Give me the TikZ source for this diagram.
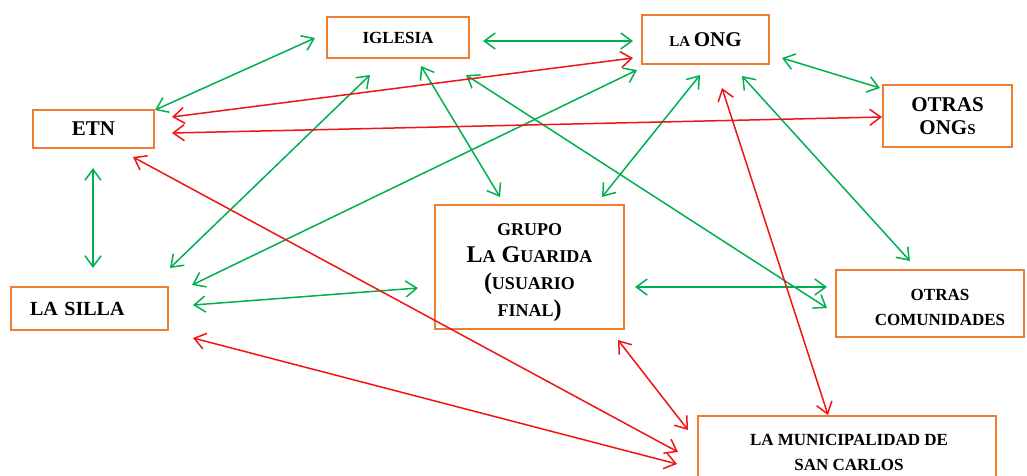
\documentclass[tikz,border=0pt]{standalone}
\usepackage{fontspec}
\setmainfont{Liberation Serif}
\usetikzlibrary{arrows.meta,calc}
\definecolor{boxorange}{RGB}{237,125,49}
\definecolor{lgreen}{RGB}{0,176,80}
\definecolor{lred}{RGB}{240,20,20}
\newcommand\smc[1]{{\fontsize{18}{27}\selectfont #1}}
\begin{document}
\begin{tikzpicture}[x=1pt,y=-1pt,
  >={Straight Barb[length=11pt,width=16pt]},
  box/.style={draw=boxorange, line width=1.6pt, outer sep=0pt, inner sep=0pt, align=center},
  lbl/.style={inner sep=0pt, align=center, font=\bfseries\fontsize{17}{25}\selectfont},
  garr/.style={draw=lgreen, line width=1.5pt, <->},
  rarr/.style={draw=lred, line width=1.5pt, <->}]
\clip (0,0) rectangle (1027,475);
\fill[white] (0,0) rectangle (1027,475);

\node[box, minimum width=142pt, minimum height=41pt, font=\bfseries\fontsize{17}{20}\selectfont] (iglesia) at (398,37.5) {IGLESIA};
\node[box, minimum width=127pt, minimum height=49pt, font=\bfseries\fontsize{21}{24}\selectfont] (ong) at (705.5,39.5) {{\fontsize{15}{18}\selectfont LA}\,ONG};
\node[box, minimum width=121pt, minimum height=38pt, font=\bfseries\fontsize{21}{24}\selectfont] (etn) at (93.5,129) {ETN};
\node[box, minimum width=129pt, minimum height=62pt, font=\bfseries\fontsize{21}{23}\selectfont] (otrasongs) at (947.5,116) {OTRAS\\ONG{\fontsize{15}{23}\selectfont S}};
\node[box, minimum width=189pt, minimum height=124pt] (grupo) at (529.5,267) {};
\node[lbl, font=\bfseries\fontsize{24}{27}\selectfont] (grupotext) at ($(grupo.center)+(0,6)$) {\smc{GRUPO}\\L\smc{A} G\smc{UARIDA}\\(\smc{USUARIO}\\\smc{FINAL})};
\node[box, minimum width=157pt, minimum height=43pt, text width=119pt, inner xsep=19pt, align=left, font=\bfseries\fontsize{20}{24}\selectfont] (silla) at (89.5,308.5) {LA SILLA};
\node[box, minimum width=188pt, minimum height=67pt] (comunidades) at (930,303.5) {};
\node[lbl] (comtext) at ($(comunidades.center)+(10,4)$) {OTRAS\\COMUNIDADES};
\node[box, minimum width=298pt, minimum height=80pt] (muni) at (847,456) {};
\node[lbl] (munitext) at ($(muni.center)+(2,-4)$) {LA MUNICIPALIDAD DE\\SAN CARLOS};

% green connectors
\draw[garr] ($(etn.north east)+(1,0)$) -- ($(iglesia.west)+(-12,0.5)$);
\draw[garr] ($(iglesia.east)+(14,3.5)$) -- ($(ong.west)+(-9,1.5)$);
\draw[garr] ($(ong.east)+(13,18.5)$) -- ($(otrasongs.north west)+(-3,3)$);
\draw[garr] ($(etn.south)+(-0.5,20)$) -- ($(silla.north)+(3.5,-19)$);
\draw[garr] ($(silla.north east)+(2,-19)$) -- ($(iglesia.south)+(-28,17)$);
\draw[garr] ($(silla.north east)+(24,-2)$) -- ($(ong.south west)+(-5,6)$);
\draw[garr] ($(silla.east)+(25,-3.5)$) -- ($(grupo.west)+(-17,21)$);
\draw[garr] ($(iglesia.south)+(23,8)$) -- ($(grupo.north)+(-29.5,-8)$);
\draw[garr] ($(ong.south)+(-5.5,11)$) -- ($(grupo.north east)+(-22,-8)$);
\draw[garr] ($(iglesia.south east)+(-3,17)$) -- ($(comunidades.west)+(-9,4.5)$);
\draw[garr] ($(ong.south)+(36.5,12)$) -- ($(comunidades.north)+(-20,-9)$);
\draw[garr] ($(grupo.east)+(11,20)$) -- ($(comunidades.west)+(-9,-16.5)$);

% red connectors
\draw[rarr] ($(etn.east)+(18,-12)$) -- ($(ong.west)+(-9,18.5)$);
\draw[rarr] ($(etn.east)+(18,4)$) -- ($(otrasongs.west)+(-1,1)$);
\draw[rarr] ($(etn.south east)+(-21,9)$) -- ($(muni.west)+(-20,-4)$);
\draw[rarr] ($(silla.south east)+(25,8)$) -- ($(muni.west)+(-21,8)$);
\draw[rarr] ($(grupo.south east)+(-6,11)$) -- ($(muni.north west)+(-10,14)$);
\draw[rarr] ($(ong.south)+(16.5,24)$) -- ($(muni.north)+(-19,-1)$);
\end{tikzpicture}
\end{document}
